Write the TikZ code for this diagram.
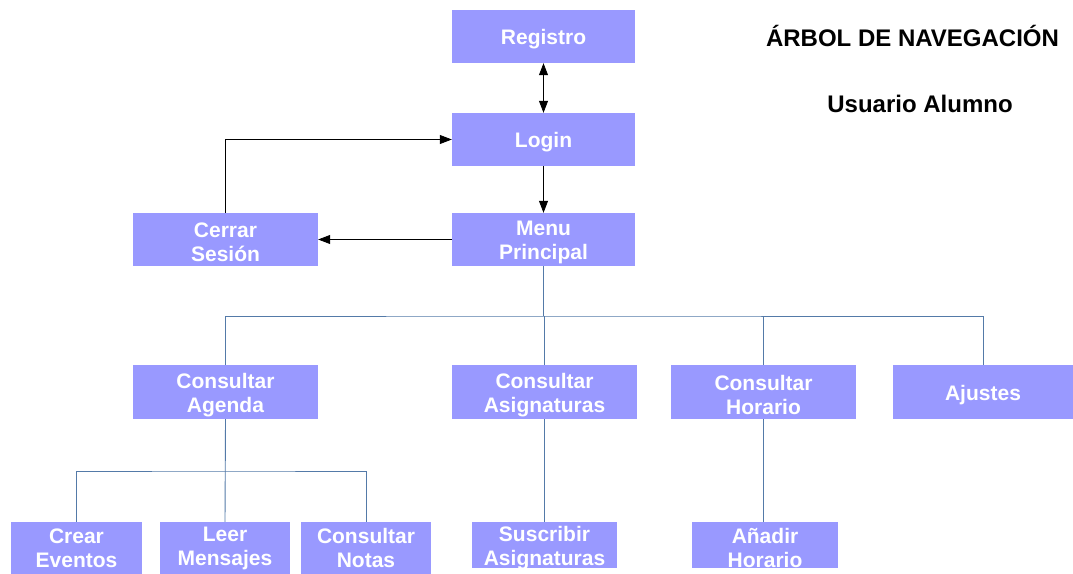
\documentclass[tikz,border=0pt]{standalone}
\usepackage{fontspec}
\setmainfont{Liberation Sans}
\usetikzlibrary{arrows.meta}
\definecolor{boxfill}{RGB}{153,153,255}
\definecolor{treeline}{RGB}{84,122,168}
\tikzset{
  navbox/.style={rectangle, fill=boxfill, inner sep=0pt},
  navtext/.style={text=white, inner sep=0pt, align=center, yshift=-3pt,
    font=\fontsize{21}{24}\selectfont\bfseries},
  navlabel/.style={label={[navtext]center:{#1}}},
  leaflabel/.style={label={[navtext, yshift=3pt]center:{#1}}},
  treelink/.style={draw=treeline, line width=0.9pt},
  navarrow/.style={draw=black, line width=0.8pt, -{Triangle[length=12pt,width=9pt]}},
  heading/.style={font=\fontsize{24}{28}\selectfont\bfseries, text=black, inner sep=0pt},
}
\begin{document}
\begin{tikzpicture}[x=1pt,y=-1pt]
\useasboundingbox[fill=white] (0,0) rectangle (1073,573);

% upper part of the tree
\node[navbox, minimum width=183pt, minimum height=53pt, navlabel={Registro}] (reg) at (543.5,36.5) {};
\node[navbox, minimum width=183pt, minimum height=53pt, navlabel={Login}] (login) at (543.5,139.5) {};
\node[navbox, minimum width=183pt, minimum height=53pt, navlabel={Menu\\Principal}] (menu) at (543.5,239.5) {};
\node[navbox, minimum width=185pt, minimum height=53pt, navlabel={Cerrar\\Sesión}] (cerrar) at (225.5,239.5) {};

% second level
\node[navbox, minimum width=185pt, minimum height=54pt, navlabel={Consultar\\Agenda}] (agenda) at (225.5,392) {};
\node[navbox, minimum width=185pt, minimum height=54pt, navlabel={Consultar\\Asignaturas}] (asig) at (544.5,392) {};
\node[navbox, minimum width=185pt, minimum height=54pt, navlabel={Consultar\\Horario}] (horario) at (763.5,392) {};
\node[navbox, minimum width=180pt, minimum height=54pt, navlabel={Ajustes}] (ajustes) at (983,392) {};

% third level
\node[navbox, minimum width=131pt, minimum height=52pt, leaflabel={Crear\\Eventos}] (crear) at (76.5,548) {};
\node[navbox, minimum width=130pt, minimum height=52pt, leaflabel={Leer\\Mensajes}] (leer) at (225,548) {};
\node[navbox, minimum width=130pt, minimum height=52pt, leaflabel={Consultar\\Notas}] (notas) at (366,548) {};
\node[navbox, minimum width=145pt, minimum height=46pt, navlabel={Suscribir\\Asignaturas}] (suscribir) at (544.5,545) {};
\node[navbox, minimum width=146pt, minimum height=46pt, navlabel={Añadir\\Horario}] (anadir) at (765,545) {};

% headings
\node[heading] (titulo) at (912.5,36) {ÁRBOL DE NAVEGACIÓN};
\node[heading] (usuario) at (920,104) {Usuario Alumno};

% navigation arrows
\draw[navarrow, {Triangle[length=12pt,width=9pt]}-{Triangle[length=12pt,width=9pt]}] (reg.south) -- (login.north);
\draw[navarrow] (login.south) -- (menu.north);
\draw[navarrow] (menu.west) -- (cerrar.east);
\draw[navarrow] (cerrar.north) |- (login.west);

% tree connectors from the main menu
\coordinate (bus) at (543.5,316);
\draw[treelink] (menu.south) -- (bus);
\draw[treelink] (agenda.north) |- (bus) -| (ajustes.north);
\draw[treelink] (asig.north) -- (asig.north |- bus);
\draw[treelink] (horario.north) -- (horario.north |- bus);

% tree connectors below the second level
\coordinate (subbus) at (225.5,471);
\draw[treelink] (agenda.south) -- (leer.north);
\draw[treelink] (crear.north) |- (subbus) -| (notas.north);
\draw[treelink] (asig.south) -- (suscribir.north);
\draw[treelink] (horario.south) -- (horario.south |- anadir.north);
\end{tikzpicture}
\end{document}
